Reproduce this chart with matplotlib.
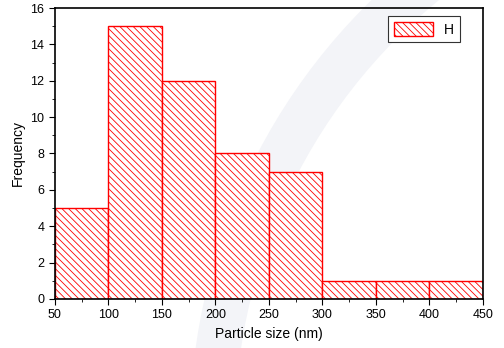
import matplotlib
matplotlib.use("Agg")
import matplotlib.pyplot as plt
from matplotlib.patches import Wedge
from matplotlib.ticker import MultipleLocator

plt.rcParams['font.family'] = ['Liberation Sans', 'DejaVu Sans']
plt.rcParams['hatch.color'] = '#ff3030'
plt.rcParams['hatch.linewidth'] = 0.6

# bin edges and counts
bin_left = [50, 100, 150, 200, 250, 300, 350, 400]
bin_width = 50
counts = [5, 15, 12, 8, 7, 1, 1, 1]

fig = plt.figure(figsize=(5.04, 3.48), dpi=100)

# faint watermark arc behind the plot
bg = fig.add_axes([0, 0, 1, 1], zorder=-1)
bg.set_xlim(0, 504)
bg.set_ylim(348, 0)
bg.axis('off')
bg.add_patch(Wedge((790, 430), 600, 180, 235, width=45,
                   facecolor='#f3f4f8', edgecolor='none'))

ax = fig.add_axes([0.109, 0.141, 0.849, 0.836])
ax.patch.set_alpha(0)
ax.bar(bin_left, counts, width=bin_width, align='edge',
       facecolor='white', edgecolor='red', hatch='\\' * 5, linewidth=1,
       label='H')

ax.set_xlim(50, 450)
ax.set_ylim(0, 16)
ax.xaxis.set_major_locator(MultipleLocator(50))
ax.xaxis.set_minor_locator(MultipleLocator(25))
ax.yaxis.set_major_locator(MultipleLocator(2))
ax.yaxis.set_minor_locator(MultipleLocator(1))
ax.tick_params(which='both', direction='out', labelsize=9, top=False, right=False)
ax.tick_params(which='major', length=4)
ax.tick_params(which='minor', length=2)
for s in ax.spines.values():
    s.set_linewidth(1.2)

ax.set_xlabel('Particle size (nm)', fontsize=10)
ax.set_ylabel('Frequency', fontsize=10)

leg = ax.legend(loc='upper right', fontsize=10, fancybox=False,
                edgecolor='#333333', framealpha=1, handlelength=2.8,
                handleheight=1.2, borderaxespad=0.6, bbox_to_anchor=(0.965, 1.0))
leg.get_frame().set_linewidth(0.8)

fig.savefig('out.png', dpi=100)
